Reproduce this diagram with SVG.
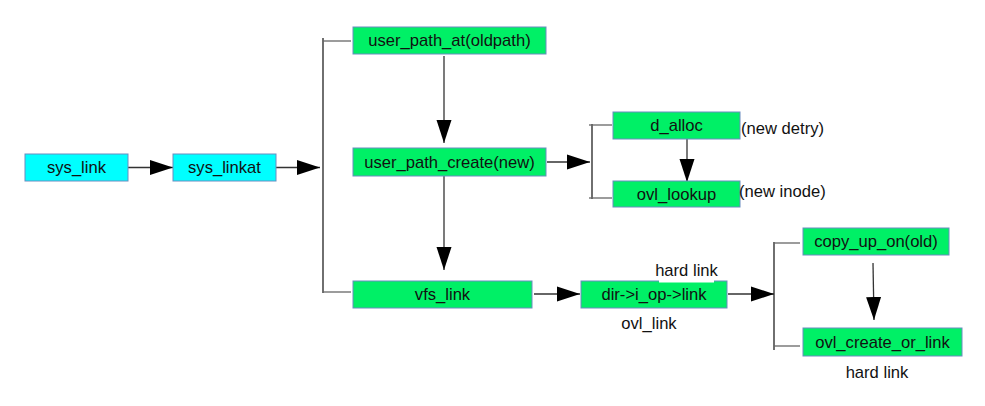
<svg xmlns="http://www.w3.org/2000/svg" width="985" height="406" viewBox="0 0 985 406">
<style>
.cy{fill:#00ffff;stroke:#6a8cc0;stroke-width:1}
.gr{fill:#00f066;stroke:#6a8cc0;stroke-width:1}
text{font-family:"Liberation Sans",Arial,sans-serif;font-size:16.6px;fill:#111}
.c{text-anchor:middle;dominant-baseline:central}
.l{dominant-baseline:central}
.ln{stroke:#333;stroke-width:1.3;fill:none}
.br{stroke:#222;stroke-width:1.3;fill:none}
.hl{stroke:#666;stroke-width:1.3;fill:none}
</style>
<defs>
<marker id="ah" markerUnits="userSpaceOnUse" markerWidth="24" markerHeight="16" viewBox="0 0 24 16" refX="23" refY="8" orient="auto">
<path d="M0,0.5 L23,8 L0,15.5 Z" fill="#000"/>
</marker>
</defs>
<rect width="985" height="406" fill="#fff"/>
<g id="connectors">
<line class="ln" x1="128" y1="167.5" x2="173" y2="167.5" marker-end="url(#ah)"/>
<line class="ln" x1="276" y1="167.5" x2="320" y2="167.5" marker-end="url(#ah)"/>
<line class="br" x1="323" y1="38" x2="323" y2="293"/>
<line class="hl" x1="323" y1="41" x2="351" y2="41"/>
<line class="hl" x1="323" y1="292" x2="351" y2="292"/>
<line class="ln" x1="444" y1="56" x2="444" y2="143" marker-end="url(#ah)"/>
<line class="ln" x1="444" y1="176" x2="444" y2="270" marker-end="url(#ah)"/>
<line class="ln" x1="547" y1="162" x2="590" y2="162" marker-end="url(#ah)"/>
<line class="br" x1="592" y1="124" x2="592" y2="199"/>
<line class="hl" x1="589" y1="125" x2="612" y2="125"/>
<line class="hl" x1="589" y1="198" x2="612" y2="198"/>
<line class="ln" x1="687" y1="139" x2="687" y2="182" marker-end="url(#ah)"/>
<line class="ln" x1="534" y1="294" x2="580" y2="294" marker-end="url(#ah)"/>
<line class="ln" x1="728" y1="294" x2="774" y2="294" marker-end="url(#ah)"/>
<line class="br" x1="774" y1="242" x2="774" y2="350"/>
<line class="hl" x1="774" y1="243" x2="800" y2="243"/>
<line class="hl" x1="774" y1="346" x2="800" y2="346"/>
<line class="ln" x1="873" y1="263" x2="874" y2="320" marker-end="url(#ah)"/>
</g>
<g id="sys_link"><rect class="cy" x="25" y="154" width="103" height="27"/><text class="c" x="76.5" y="167.5">sys_link</text></g>
<g id="sys_linkat"><rect class="cy" x="173" y="154" width="103" height="27"/><text class="c" x="224.5" y="167.5">sys_linkat</text></g>
<g id="user_path_at"><rect class="gr" x="353" y="27" width="193" height="27"/><text class="c" x="449.5" y="40.5">user_path_at(oldpath)</text></g>
<g id="user_path_create"><rect class="gr" x="353" y="148" width="193" height="28"/><text class="c" x="449.5" y="162">user_path_create(new)</text></g>
<g id="vfs_link"><rect class="gr" x="353" y="281" width="179" height="27"/><text class="c" x="442.5" y="294.5">vfs_link</text></g>
<g id="dir_iop_link"><rect class="gr" x="581" y="281" width="146" height="27"/><text class="c" x="654" y="294.5">dir-&gt;i_op-&gt;link</text>
<rect x="659" y="259" width="55" height="23.5" fill="#fff"/><text class="c" x="686.5" y="270">hard link</text>
<text class="c" x="649" y="323">ovl_link</text></g>
<g id="d_alloc"><rect class="gr" x="613" y="112" width="127" height="27"/><text class="c" x="676.5" y="125.5">d_alloc</text><text class="l" x="741" y="128">(new detry)</text></g>
<g id="ovl_lookup"><rect class="gr" x="613" y="181" width="127" height="26"/><text class="c" x="676.5" y="194">ovl_lookup</text><text class="l" x="739" y="191">(new inode)</text></g>
<g id="copy_up_on"><rect class="gr" x="803" y="228" width="146" height="27"/><text class="c" x="876" y="241.5">copy_up_on(old)</text></g>
<g id="ovl_create_or_link"><rect class="gr" x="803" y="328" width="159" height="28"/><text class="c" x="882.5" y="342">ovl_create_or_link</text>
<text class="c" x="877" y="372">hard link</text></g>
</svg>
